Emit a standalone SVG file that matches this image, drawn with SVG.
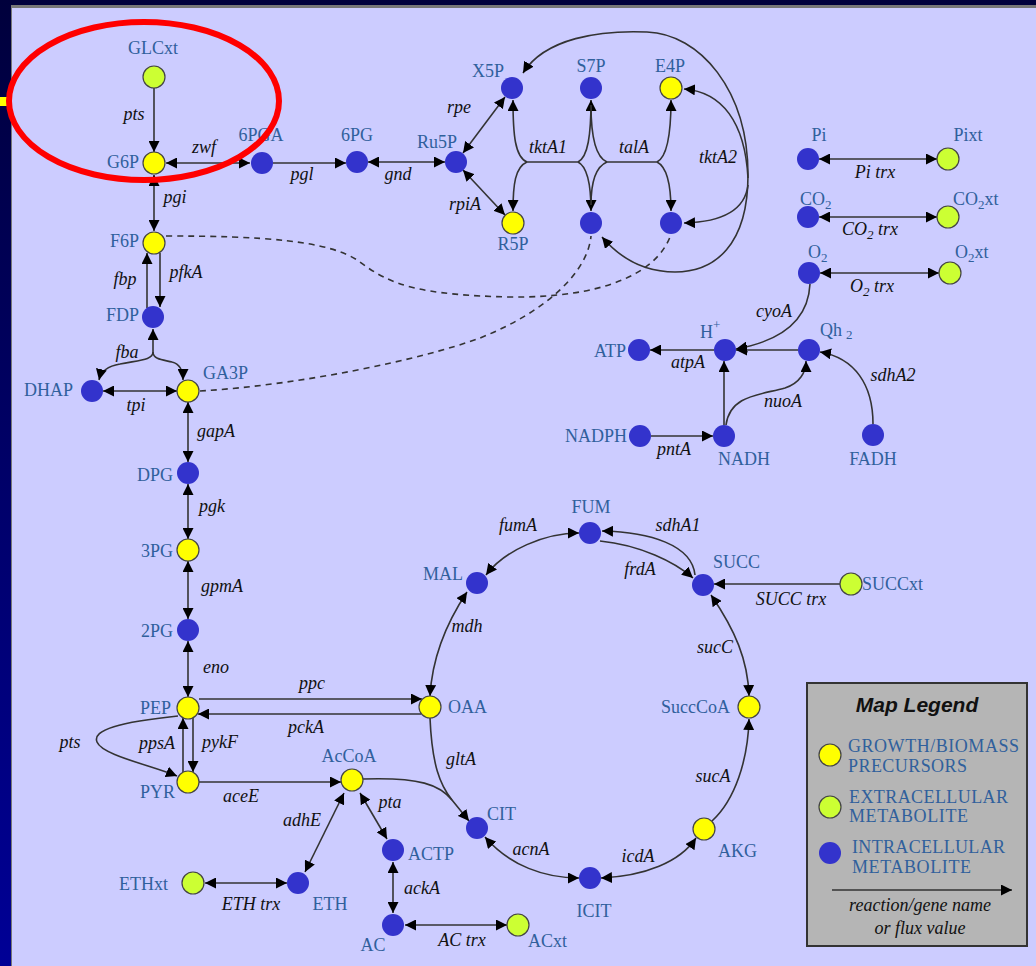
<svg xmlns="http://www.w3.org/2000/svg" width="1036" height="966" viewBox="0 0 1036 966">
<defs>
<linearGradient id="bg" x1="0" y1="0" x2="0" y2="1">
<stop offset="0" stop-color="#00003c"/>
<stop offset="1" stop-color="#000096"/>
</linearGradient>
<marker id="ah" viewBox="0 0 10 10" refX="10" refY="5" markerWidth="11" markerHeight="11" markerUnits="userSpaceOnUse" orient="auto-start-reverse">
<path d="M0,0 L10,5 L0,10 z" fill="#000"/>
</marker>
<style>
.c path{fill:none;stroke:#333;stroke-width:1.6}
.e{marker-end:url(#ah)}
.b2{marker-start:url(#ah);marker-end:url(#ah)}
.d{stroke-dasharray:6 5}
.y{fill:#ffff00;stroke:#444;stroke-width:1.2}
.g{fill:#ccff33;stroke:#444;stroke-width:1.2}
.bl{fill:#3333cc}
.nl{font-family:"Liberation Serif",serif;font-size:18px;fill:#30609c}
.gl{font-family:"Liberation Serif",serif;font-style:italic;font-size:18px;fill:#111;text-anchor:middle}
.m{text-anchor:middle}
.r{text-anchor:end}
.sub{font-size:13px}
</style>
</defs>
<rect width="1036" height="966" fill="url(#bg)"/>
<rect x="11" y="5" width="1025" height="961" fill="#777"/>
<rect x="12" y="8" width="1024" height="958" fill="#ccccff"/>
<rect x="0" y="97" width="8" height="9" fill="#ffff00"/>

<g id="connectors" class="c">
<path class="e" d="M154,88 V152"/>
<path class="b2" d="M250,163 H166"/>
<path class="e" d="M273,163 H346"/>
<path class="b2" d="M368,162 H445"/>
<path class="b2" d="M463,153 L505,97"/>
<path class="b2" d="M463,170 L505,215"/>
<path d="M527,162 H578"/>
<path class="e" d="M527,162 C515,157 513,135 513,100"/>
<path class="e" d="M527,162 C515,167 513,185 513,211"/>
<path class="e" d="M578,162 C588,157 591,135 591,100"/>
<path class="e" d="M578,162 C588,167 591,185 591,211"/>
<path d="M607,162 H657"/>
<path d="M607,162 C595,157 591,135 591,105"/>
<path d="M607,162 C595,167 591,185 591,205"/>
<path class="e" d="M657,162 C667,157 671,135 671,100"/>
<path class="e" d="M657,162 C667,167 671,185 671,211"/>
<path class="b2" d="M523,73 C545,38 600,30 647,32 C700,34 748,90 748,175 C748,245 715,272 675,272 C645,272 620,258 602,237"/>
<path class="e" d="M748,178 C745,122 722,92 684,89"/>
<path class="e" d="M748,185 C745,210 722,222 684,223"/>
<path class="d" d="M166,236 C260,236 330,240 360,262 C390,285 420,295 510,297 C600,298 655,275 670,237"/>
<path class="d" d="M200,391 C300,385 420,360 480,338 C550,310 588,270 591,236"/>
<path class="b2" d="M154,175 V231"/>
<path class="e" d="M160,253 V307"/>
<path class="e" d="M147,308 V253"/>
<path class="e" d="M153,352 V329"/>
<path class="e" d="M153,352 C153,360 140,360 120,364 C108,366 101,371 99,380"/>
<path class="e" d="M153,352 C153,360 165,360 172,362 C180,364 183,370 183,380"/>
<path class="b2" d="M103,391 H177"/>
<path class="b2" d="M188,402 V462"/>
<path class="b2" d="M188,484 V539"/>
<path class="b2" d="M188,561 V619"/>
<path class="b2" d="M188,641 V697"/>
<path class="e" d="M199,699 H422"/>
<path class="e" d="M421,714 H198"/>
<path class="e" d="M193,718 V772"/>
<path class="e" d="M183,772 V718"/>
<path class="e" d="M178,716 C120,722 92,730 97,742 C102,755 150,765 177,776"/>
<path class="e" d="M199,782 H341"/>
<path class="e" d="M363,779 C420,777 440,785 452,800 L469,821"/>
<path d="M430,718 C432,765 440,785 452,800"/>
<path class="b2" d="M344,793 L305,872"/>
<path class="b2" d="M360,793 L387,839"/>
<path class="b2" d="M393,862 V913"/>
<path class="b2" d="M205,883 H287"/>
<path class="b2" d="M405,925 H507"/>
<path class="b2" d="M467,592 C445,625 432,660 430,696"/>
<path class="b2" d="M486,575 C505,550 545,533 579,533"/>
<path class="e" d="M695,575 C692,545 650,532 602,531"/>
<path class="e" d="M600,541 C640,545 675,562 693,578"/>
<path class="b2" d="M711,595 C735,630 748,660 749,696"/>
<path class="e" d="M840,584 H714"/>
<path class="e" d="M712,821 C735,800 748,760 749,719"/>
<path class="b2" d="M601,878 C645,876 680,862 696,838"/>
<path class="b2" d="M485,837 C510,866 545,878 579,878"/>
<path class="b2" d="M819,159 H937"/>
<path class="b2" d="M819,217 H937"/>
<path class="b2" d="M820,273 H939"/>
<path class="e" d="M810,284 C808,325 775,342 736,349"/>
<path class="e" d="M798,350 H736"/>
<path class="e" d="M714,350 H650"/>
<path class="e" d="M724,425 V361"/>
<path class="e" d="M726,425 C730,395 760,395 785,388 C800,383 806,372 806,361"/>
<path class="e" d="M651,436 H713"/>
<path class="e" d="M873,424 C873,385 855,358 820,352"/>
</g>

<g id="gene-labels">
<text class="gl" x="134" y="120">pts</text>
<text class="gl" x="204" y="153">zwf</text>
<text class="gl" x="302" y="180">pgl</text>
<text class="gl" x="398" y="180">gnd</text>
<text class="gl" x="175" y="203">pgi</text>
<text class="gl" x="186" y="278">pfkA</text>
<text class="gl" x="125" y="285">fbp</text>
<text class="gl" x="459" y="113">rpe</text>
<text class="gl" x="465" y="210">rpiA</text>
<text class="gl" x="548" y="153">tktA1</text>
<text class="gl" x="634" y="153">talA</text>
<text class="gl" x="718" y="163">tktA2</text>
<text class="gl" x="875" y="178">Pi  trx</text>
<text class="gl" x="870" y="235">CO<tspan class="sub" dy="4">2</tspan><tspan dy="-4"> trx</tspan></text>
<text class="gl" x="872" y="292">O<tspan class="sub" dy="4">2</tspan><tspan dy="-4"> trx</tspan></text>
<text class="gl" x="774" y="317">cyoA</text>
<text class="gl" x="688" y="368">atpA</text>
<text class="gl" x="783" y="407">nuoA</text>
<text class="gl" x="674" y="455">pntA</text>
<text class="gl" x="893" y="381">sdhA2</text>
<text class="gl" x="127" y="358">fba</text>
<text class="gl" x="136" y="411">tpi</text>
<text class="gl" x="216" y="437">gapA</text>
<text class="gl" x="212" y="512">pgk</text>
<text class="gl" x="222" y="592">gpmA</text>
<text class="gl" x="216" y="673">eno</text>
<text class="gl" x="312" y="689">ppc</text>
<text class="gl" x="306" y="733">pckA</text>
<text class="gl" x="70" y="748">pts</text>
<text class="gl" x="157" y="749">ppsA</text>
<text class="gl" x="220" y="748">pykF</text>
<text class="gl" x="241" y="802">aceE</text>
<text class="gl" x="302" y="826">adhE</text>
<text class="gl" x="390" y="808">pta</text>
<text class="gl" x="422" y="894">ackA</text>
<text class="gl" x="251" y="910">ETH trx</text>
<text class="gl" x="462" y="946">AC trx</text>
<text class="gl" x="518" y="531">fumA</text>
<text class="gl" x="678" y="531">sdhA1</text>
<text class="gl" x="640" y="575">frdA</text>
<text class="gl" x="467" y="632">mdh</text>
<text class="gl" x="791" y="605">SUCC trx</text>
<text class="gl" x="715" y="653">sucC</text>
<text class="gl" x="461" y="765">gltA</text>
<text class="gl" x="713" y="782">sucA</text>
<text class="gl" x="531" y="855">acnA</text>
<text class="gl" x="638" y="862">icdA</text>
</g>

<g id="n-GLCxt"><circle class="g" cx="154" cy="77" r="11"/><text class="nl m" x="153" y="54">GLCxt</text></g>
<g id="n-G6P"><circle class="y" cx="154" cy="163" r="11"/><text class="nl r" x="139" y="168">G6P</text></g>
<g id="n-6PGA"><circle class="bl" cx="262" cy="163" r="11"/><text class="nl m" x="261" y="141">6PGA</text></g>
<g id="n-6PG"><circle class="bl" cx="357" cy="162" r="11"/><text class="nl m" x="357" y="141">6PG</text></g>
<g id="n-Ru5P"><circle class="bl" cx="456" cy="162" r="11"/><text class="nl m" x="437" y="148">Ru5P</text></g>
<g id="n-X5P"><circle class="bl" cx="512" cy="88" r="11"/><text class="nl m" x="488" y="77">X5P</text></g>
<g id="n-S7P"><circle class="bl" cx="591" cy="88" r="11"/><text class="nl m" x="591" y="72">S7P</text></g>
<g id="n-E4P"><circle class="y" cx="671" cy="88" r="11"/><text class="nl m" x="670" y="72">E4P</text></g>
<g id="n-R5P"><circle class="y" cx="513" cy="223" r="11"/><text class="nl m" x="513" y="250">R5P</text></g>
<g id="n-S7Pb"><circle class="bl" cx="591" cy="223" r="11"/></g>
<g id="n-E4Pb"><circle class="bl" cx="671" cy="223" r="11"/></g>
<g id="n-F6P"><circle class="y" cx="154" cy="243" r="11"/><text class="nl r" x="139" y="247">F6P</text></g>
<g id="n-FDP"><circle class="bl" cx="153" cy="317" r="11"/><text class="nl r" x="139" y="321">FDP</text></g>
<g id="n-DHAP"><circle class="bl" cx="92" cy="391" r="11"/><text class="nl r" x="73" y="396">DHAP</text></g>
<g id="n-GA3P"><circle class="y" cx="188" cy="391" r="11"/><text class="nl" x="203" y="379">GA3P</text></g>
<g id="n-DPG"><circle class="bl" cx="188" cy="473" r="11"/><text class="nl r" x="173" y="481">DPG</text></g>
<g id="n-3PG"><circle class="y" cx="188" cy="550" r="11"/><text class="nl r" x="173" y="557">3PG</text></g>
<g id="n-2PG"><circle class="bl" cx="188" cy="630" r="11"/><text class="nl r" x="173" y="637">2PG</text></g>
<g id="n-PEP"><circle class="y" cx="188" cy="708" r="11"/><text class="nl r" x="171" y="714">PEP</text></g>
<g id="n-PYR"><circle class="y" cx="188" cy="782" r="11"/><text class="nl r" x="175" y="798">PYR</text></g>
<g id="n-AcCoA"><circle class="y" cx="352" cy="780" r="11"/><text class="nl m" x="349" y="762">AcCoA</text></g>
<g id="n-ETHxt"><circle class="g" cx="193" cy="883" r="11"/><text class="nl r" x="168" y="890">ETHxt</text></g>
<g id="n-ETH"><circle class="bl" cx="298" cy="883" r="11"/><text class="nl m" x="330" y="910">ETH</text></g>
<g id="n-ACTP"><circle class="bl" cx="393" cy="850" r="11"/><text class="nl" x="408" y="860">ACTP</text></g>
<g id="n-AC"><circle class="bl" cx="393" cy="925" r="11"/><text class="nl m" x="373" y="951">AC</text></g>
<g id="n-ACxt"><circle class="g" cx="518" cy="925" r="11"/><text class="nl" x="528" y="947">ACxt</text></g>
<g id="n-OAA"><circle class="y" cx="430" cy="707" r="11"/><text class="nl" x="448" y="713">OAA</text></g>
<g id="n-MAL"><circle class="bl" cx="477" cy="583" r="11"/><text class="nl r" x="463" y="580">MAL</text></g>
<g id="n-FUM"><circle class="bl" cx="590" cy="533" r="11"/><text class="nl m" x="591" y="513">FUM</text></g>
<g id="n-SUCC"><circle class="bl" cx="703" cy="585" r="11"/><text class="nl" x="713" y="568">SUCC</text></g>
<g id="n-SUCCxt"><circle class="g" cx="851" cy="584" r="11"/><text class="nl" x="862" y="590">SUCCxt</text></g>
<g id="n-SuccCoA"><circle class="y" cx="749" cy="707" r="11"/><text class="nl r" x="730" y="713">SuccCoA</text></g>
<g id="n-CIT"><circle class="bl" cx="477" cy="828" r="11"/><text class="nl" x="487" y="820">CIT</text></g>
<g id="n-AKG"><circle class="y" cx="704" cy="829" r="11"/><text class="nl" x="718" y="857">AKG</text></g>
<g id="n-ICIT"><circle class="bl" cx="590" cy="878" r="11"/><text class="nl m" x="594" y="917">ICIT</text></g>
<g id="n-Pi"><circle class="bl" cx="808" cy="159" r="11"/><text class="nl m" x="819" y="141">Pi</text></g>
<g id="n-Pixt"><circle class="g" cx="948" cy="159" r="11"/><text class="nl m" x="968" y="141">Pixt</text></g>
<g id="n-CO2"><circle class="bl" cx="808" cy="217" r="11"/><text class="nl" x="800" y="205">CO<tspan class="sub" dy="4">2</tspan></text></g>
<g id="n-CO2xt"><circle class="g" cx="948" cy="217" r="11"/><text class="nl" x="953" y="205">CO<tspan class="sub" dy="4">2</tspan><tspan dy="-4">xt</tspan></text></g>
<g id="n-O2"><circle class="bl" cx="809" cy="273" r="11"/><text class="nl" x="808" y="258">O<tspan class="sub" dy="4">2</tspan></text></g>
<g id="n-O2xt"><circle class="g" cx="950" cy="273" r="11"/><text class="nl" x="955" y="258">O<tspan class="sub" dy="4">2</tspan><tspan dy="-4">xt</tspan></text></g>
<g id="n-Qh2"><circle class="bl" cx="809" cy="350" r="11"/><text class="nl" x="820" y="336">Qh<tspan class="sub" dx="4" dy="3">2</tspan></text></g>
<g id="n-H"><circle class="bl" cx="725" cy="350" r="11"/><text class="nl" x="700" y="338">H<tspan class="sub" dy="-9">+</tspan></text></g>
<g id="n-ATP"><circle class="bl" cx="639" cy="350" r="11"/><text class="nl r" x="626" y="357">ATP</text></g>
<g id="n-NADPH"><circle class="bl" cx="640" cy="436" r="11"/><text class="nl r" x="627" y="442">NADPH</text></g>
<g id="n-NADH"><circle class="bl" cx="724" cy="436" r="11"/><text class="nl" x="718" y="465">NADH</text></g>
<g id="n-FADH"><circle class="bl" cx="873" cy="435" r="11"/><text class="nl m" x="873" y="465">FADH</text></g>

<g id="legend">
<rect x="807" y="683" width="220" height="263" fill="#b5b5b5" stroke="#333" stroke-width="2"/>
<text x="917" y="712" text-anchor="middle" font-family="Liberation Sans, sans-serif" font-size="21" font-weight="bold" font-style="italic" fill="#111">Map Legend</text>
<circle class="y" cx="830" cy="755" r="11"/>
<circle class="g" cx="830" cy="807" r="11"/>
<circle class="bl" cx="830" cy="853" r="11"/>
<text class="nl" x="848" y="752" textLength="171">GROWTH/BIOMASS</text>
<text class="nl" x="848" y="772" textLength="119">PRECURSORS</text>
<text class="nl" x="849" y="803" textLength="159">EXTRACELLULAR</text>
<text class="nl" x="849" y="822" textLength="119">METABOLITE</text>
<text class="nl" x="852" y="853" textLength="153">INTRACELLULAR</text>
<text class="nl" x="852" y="873" textLength="119">METABOLITE</text>
<path d="M832,890 H1012" stroke="#333" stroke-width="1.6" marker-end="url(#ah)"/>
<text class="gl" x="920" y="911">reaction/gene name</text>
<text class="gl" x="920" y="934">or flux value</text>
</g>

<ellipse cx="144" cy="101" rx="135" ry="79" fill="none" stroke="#ff0000" stroke-width="6"/>
</svg>
